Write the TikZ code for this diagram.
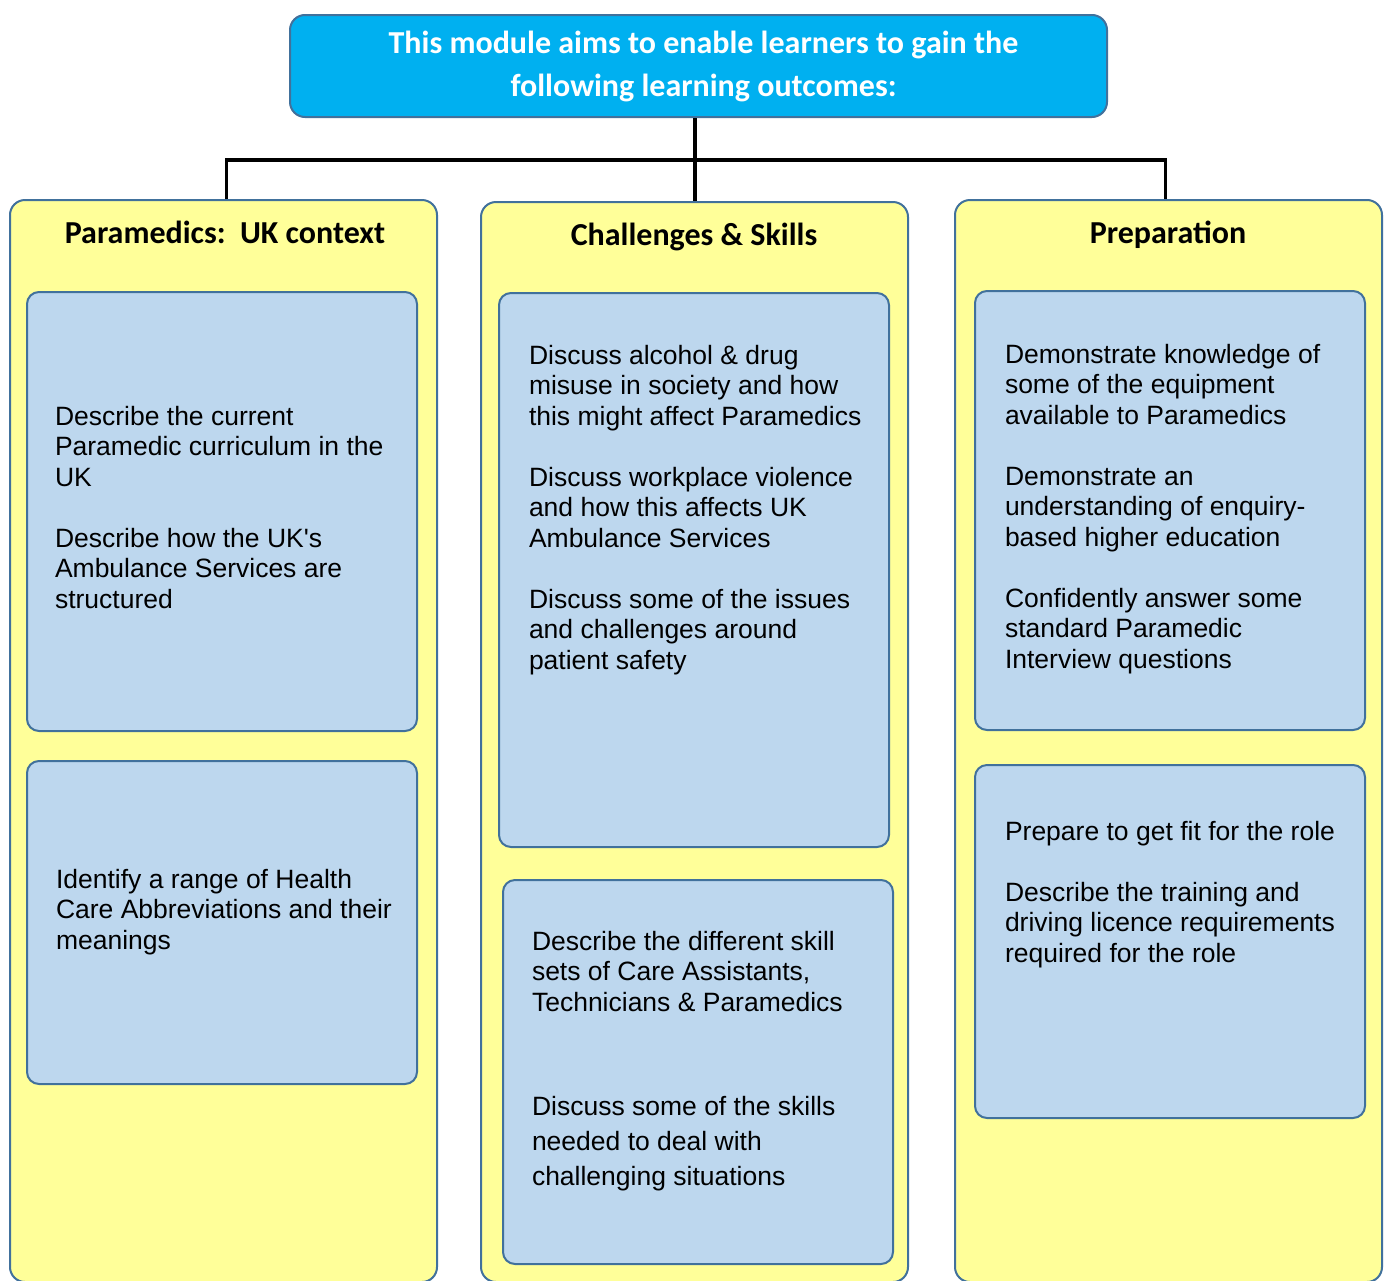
\documentclass[tikz,border=0pt]{standalone}
\usepackage{fontspec}
\setmainfont{Liberation Sans}
\newfontfamily\headfont{Carlito}
\usepackage{tikz}
\usetikzlibrary{calc}
\definecolor{skyblue}{RGB}{0, 176, 240}
\definecolor{paleyellow}{RGB}{255, 255, 153}
\definecolor{paleblue}{RGB}{189, 215, 238}
\definecolor{edgeblue}{RGB}{65, 113, 156}

\begin{document}
\begin{tikzpicture}[x=0.5pt, y=-0.5pt, line width=1pt,
    column/.style={draw=edgeblue, fill=paleyellow, rounded corners=7.5pt, anchor=north west, minimum width=213.5pt, inner sep=0pt},
    outcome/.style={draw=edgeblue, fill=paleblue, rounded corners=6pt, anchor=north west, minimum width=195pt, inner sep=0pt},
    head/.style={font=\headfont\bfseries\fontsize{16}{19}\selectfont, anchor=base},
    body/.style={font=\fontsize{13.25}{15.25}\selectfont, align=left, anchor=north west, inner sep=0pt},
    link/.style={line width=1.6pt, black}]
  \useasboundingbox (0, 0) rectangle (1386, 1280);
  \fill[white] (0, 0) rectangle (1386, 1280);

  \node[draw=edgeblue, fill=skyblue, rounded corners=7.5pt, anchor=north west, minimum width=408.5pt, minimum height=51pt, inner sep=0pt,
        text=white, align=center, font=\headfont\bfseries\fontsize{16}{21.5}\selectfont] (title) at (289, 14)
    {\hspace*{5pt}This module aims to enable learners to gain the\\\hspace*{5pt}following learning outcomes:};

  \node[column, minimum height=541pt] (col1) at (9, 199) {};
  \node[column, minimum height=540pt] (col2) at (480, 201) {};
  \node[column, minimum height=541pt] (col3) at (954, 199) {};

  \coordinate (hub) at (695, 160);
  \draw[link] (hub |- title.south) -- (hub) -- (hub |- col2.north);
  \draw[link] ([xshift=1.5pt]col1.north) |- (hub) -| ([xshift=-1.5pt]col3.north);

  \node[head] (h1) at (225, 243) {Paramedics:\ \ UK context};
  \node[head] (h2) at (694, 245) {Challenges \& Skills};
  \node[head] (h3) at (1168, 243) {Preparation};

  \node[outcome, minimum height=219.5pt] (b11) at (26, 291) {};
  \node[outcome, minimum height=161.5pt] (b12) at (26, 760) {};
  \node[outcome, minimum height=277pt] (b21) at (498, 292) {};
  \node[outcome, minimum height=192pt] (b22) at (502, 879) {};
  \node[outcome, minimum height=219.5pt] (b31) at (974, 290) {};
  \node[outcome, minimum height=176.5pt] (b32) at (974, 764) {};

  \node[body] (t11) at (54, 405) {Describe the current\\Paramedic curriculum in the\\UK\\[15.25pt]
    Describe how the UK\textquotesingle s\\Ambulance Services are\\structured};
  \node[body] (t12) at (55, 868) {Identify a range of Health\\Care Abbreviations and their\\meanings};
  \node[body] (t21) at (528, 344) {Discuss alcohol \& drug\\misuse in society and how\\this might affect Paramedics\\[15.25pt]
    Discuss workplace violence\\and how this affects UK\\Ambulance Services\\[15.25pt]
    Discuss some of the issues\\and challenges around\\patient safety};
  \node[body] (t22) at (531, 930) {Describe the different skill\\sets of Care Assistants,\\Technicians \& Paramedics\\[36.75pt]
    Discuss some of the skills\\[2.25pt]needed to deal with\\[2.25pt]challenging situations};
  \node[body] (t31) at (1004, 343) {Demonstrate knowledge of\\some of the equipment\\available to Paramedics\\[15.25pt]
    Demonstrate an\\understanding of enquiry-\\based higher education\\[15.25pt]
    Confidently answer some\\standard Paramedic\\Interview questions};
  \node[body] (t32) at (1004, 820) {Prepare to get fit for the role\\[15.25pt]
    Describe the training and\\driving licence requirements\\required for the role};
\end{tikzpicture}
\end{document}
